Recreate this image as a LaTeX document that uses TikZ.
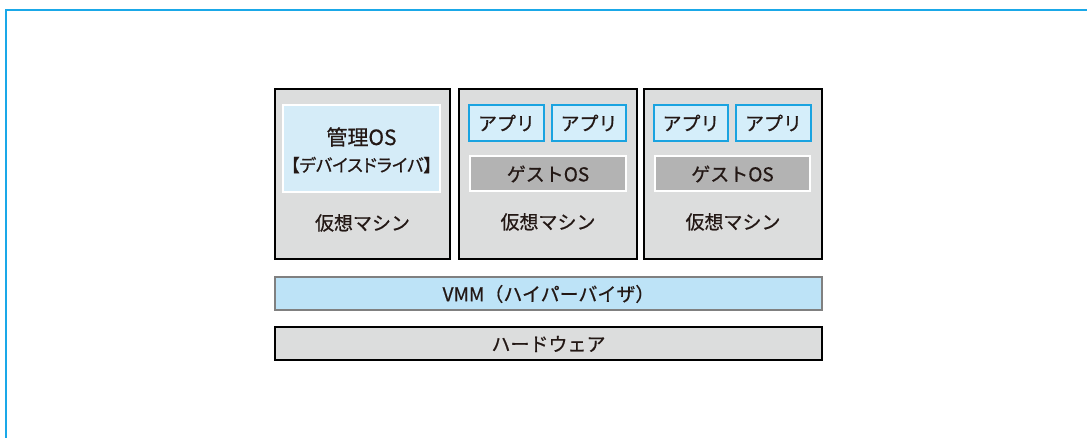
\documentclass[tikz,border=0pt]{standalone}
\usepackage{fontspec}
\setmainfont{Noto Sans CJK JP}[FakeBold=0.6]
\newfontfamily\paltfont{Noto Sans CJK JP}[FakeBold=0.6,RawFeature={+palt}]
\definecolor{framebl}{HTML}{1AA8E8}
\definecolor{vmgray}{HTML}{DCDDDD}
\definecolor{osblue}{HTML}{D5ECF8}
\definecolor{appblue}{HTML}{D5EEFA}
\definecolor{appedge}{HTML}{1AA3E0}
\definecolor{guestgray}{HTML}{B3B3B3}
\definecolor{vmmblue}{HTML}{BDE3F7}
\definecolor{vmmedge}{HTML}{808080}
\definecolor{txt}{HTML}{231815}
\begin{document}
\begin{tikzpicture}[x=1pt,y=-1pt,
  every node/.style={text=txt,font=\fontsize{19}{22}\selectfont},
  vmbox/.style={draw=black,fill=vmgray,line width=2.2pt},
  osbox/.style={draw=white,fill=osblue,line width=2pt},
  appbox/.style={draw=appedge,fill=appblue,line width=2.2pt},
  guestbox/.style={draw=white,fill=guestgray,line width=2pt},
  vmmbox/.style={draw=vmmedge,fill=vmmblue,line width=2pt},
  hwbox/.style={draw=black,fill=vmgray,line width=2.2pt}]
\useasboundingbox (0,0) rectangle (1087,438);
\fill[white] (0,0) rectangle (1087,438);
\coordinate (fbl) at (6,438);
\coordinate (ftl) at (6,10);
\coordinate (ftr) at (1087,10);
\draw[framebl,line width=2.5pt] (fbl) -- (ftl) -- (ftr);
% VM 1
\draw[vmbox] (275,89) rectangle (450,259);
\draw[osbox] (283,105) rectangle (440,192);
\node[font=\fontsize{21}{24}\selectfont] (os1) at (361.5,137) {管理OS};
\node[font=\paltfont\fontsize{17.5}{21}\selectfont] (dd1) at (361.5,165) {【デバイスドライバ】};
\node (vm1) at (362.5,223) {仮想マシン};
% VM 2
\draw[vmbox] (459,89) rectangle (637,259);
\draw[appbox] (469,105) rectangle (544,141);
\node (a21) at (506.5,123) {アプリ};
\draw[appbox] (552,105) rectangle (626,141);
\node (a22) at (589,123) {アプリ};
\draw[guestbox] (470,156) rectangle (626,191);
\node (g2) at (548,174) {ゲストOS};
\node (vm2) at (548,222) {仮想マシン};
% VM 3
\draw[vmbox] (644,89) rectangle (822,259);
\draw[appbox] (654,105) rectangle (728,141);
\node (a31) at (691,123) {アプリ};
\draw[appbox] (736,105) rectangle (811,141);
\node (a32) at (773.5,123) {アプリ};
\draw[guestbox] (655,156) rectangle (810,191);
\node (g3) at (732.5,174) {ゲストOS};
\node (vm3) at (733,222) {仮想マシン};
% VMM
\draw[vmmbox] (275,277) rectangle (822,310);
\node (vmm) at (548.5,294) {VMM（ハイパーバイザ）};
% Hardware
\draw[hwbox] (275,327) rectangle (822,360);
\node (hw) at (548.5,344) {ハードウェア};
\end{tikzpicture}
\end{document}
